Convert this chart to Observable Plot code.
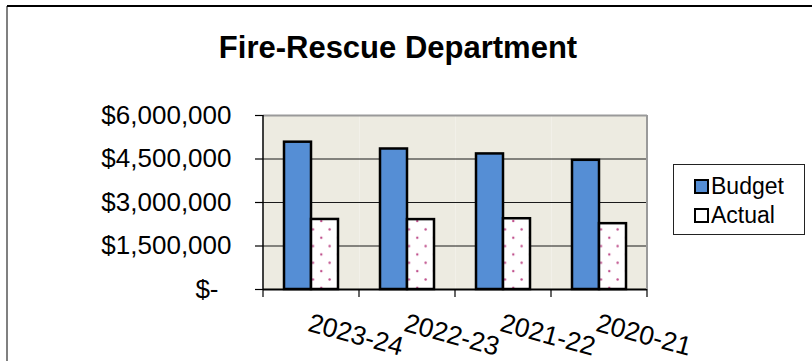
<!DOCTYPE html>
<html>
<head>
<meta charset="utf-8">
<script src="https://cdn.jsdelivr.net/npm/d3@7"></script>
<script src="https://cdn.jsdelivr.net/npm/@observablehq/plot@0.6"></script>
<style>
  html, body { margin: 0; padding: 0; background: #fff; }
  #wrap { position: relative; width: 812px; height: 361px; overflow: hidden; font-family: "Liberation Sans", Arial, sans-serif; }
  #border-left { position: absolute; left: 6px; top: 6px; width: 2px; height: 360px; background: #808080; }
  #border-top { position: absolute; left: 7px; top: 5px; width: 810px; height: 1.5px; background: #000; }
  #title { position: absolute; left: 0; top: 32px; width: 796px; text-align: center; font-size: 31px; font-weight: bold; line-height: 1; color: #000; }
  #legend { position: absolute; left: 673px; top: 164px; width: 132px; height: 71px; border: 1.3px solid #222; box-sizing: border-box; background: #fff; }
  .li { position: absolute; left: 20px; display: flex; align-items: center; font-size: 23px; line-height: 1; color: #000; }
  .sw { width: 11px; height: 11px; border: 2px solid #000; margin-right: 2px; }
  #chart { position: absolute; left: 0; top: 0; }
</style>
</head>
<body>
<svg width="0" height="0" style="position:absolute">
  <defs>
    <pattern id="dots" width="16.7" height="16.7" patternUnits="userSpaceOnUse">
      <rect width="16.7" height="16.7" fill="#fff"></rect>
      <circle cx="4" cy="4" r="1.2" fill="#c0508c"></circle>
      <circle cx="12.35" cy="12.35" r="1.2" fill="#c0508c"></circle>
    </pattern>
  </defs>
</svg>
<div id="wrap">
  <div id="chart"></div>
  <div id="border-left"></div>
  <div id="border-top"></div>
  <div id="title">Fire-Rescue Department</div>
  <div id="legend">
    <div class="li" style="top:10px"><div class="sw" style="background:#558ED5"></div>Budget</div>
    <div class="li" style="top:39px"><div class="sw" style="background:#fff"></div>Actual</div>
  </div>
</div>
<script>
const years = ["2023-24", "2022-23", "2021-22", "2020-21"];
const seriesNames = ["Budget", "Actual"];
const budget = [5080000, 4845000, 4675000, 4455000];
const actual = [2415000, 2410000, 2440000, 2270000];
const yTicks = [0, 1500000, 3000000, 4500000, 6000000];

const rows = [];
years.forEach((y, i) => {
  rows.push({year: y, series: "Budget", value: budget[i]});
  rows.push({year: y, series: "Actual", value: actual[i]});
});

const fmt = v => v === 0 ? "$-\u2002" : "$" + d3.format(",")(v);

const W = 812, H = 361, ML = 263, MR = 165, MT = 115, MB = 72;

const plot = Plot.plot({
  width: W,
  height: H,
  marginLeft: ML,
  marginRight: MR,
  marginTop: MT,
  marginBottom: MB,
  style: {fontFamily: "Liberation Sans, Arial, sans-serif", fontSize: "26px", color: "#000", background: "transparent", overflow: "visible"},
  fx: {domain: years, padding: 0, axis: null, label: null},
  x: {domain: seriesNames, paddingOuter: 0.75, paddingInner: 0, axis: null},
  y: {domain: [0, 6000000], axis: null},
  color: {domain: seriesNames, range: ["#558ED5", "url(#dots)"]},
  marks: [
    Plot.frame({fill: "#EDEBE1"}),
    Plot.gridY(yTicks.slice(1, 4), {stroke: "#1a1a1a", strokeOpacity: 1, strokeWidth: 1.2}),
    Plot.ruleY([6000000], {stroke: "#9a9a9a", strokeWidth: 2}),
    Plot.barY(rows, {fx: "year", x: "series", y: "value", fill: "series", stroke: "#000", strokeWidth: 2.5}),
    Plot.ruleY([0], {stroke: "#000", strokeWidth: 1.8}),
    Plot.axisY(yTicks, {tickFormat: fmt, tickSize: 8, tickPadding: 24, fontSize: 26, stroke: "#000", strokeWidth: 1.2, label: null}),
    Plot.text(years, {fx: d => d, text: d => d, frameAnchor: "bottom", dy: 23, rotate: 15, textAnchor: "start", lineAnchor: "top", fontSize: 26.5, fill: "#000"})
  ]
});

document.getElementById("chart").appendChild(plot);

// axis line, right border and category-boundary ticks, placed from the library's fx / y scales
const svg = d3.select(plot);
const fxs = plot.scale("fx");
const ys = plot.scale("y");
const [r0, r1] = fxs.range;
const step = (r1 - r0) / fxs.domain.length;
const yBottom = Math.max(...ys.range), yTop = Math.min(...ys.range);
const g = svg.append("g");
g.append("line").attr("x1", r0).attr("x2", r0).attr("y1", yTop).attr("y2", yBottom).attr("stroke", "#000").attr("stroke-width", 1.5);
g.append("line").attr("x1", r1).attr("x2", r1).attr("y1", yTop).attr("y2", yBottom).attr("stroke", "#9a9a9a").attr("stroke-width", 2);
d3.range(fxs.domain.length + 1).forEach(i => {
  const x = r0 + i * step;
  g.append("line").attr("x1", x).attr("x2", x).attr("y1", yBottom).attr("y2", yBottom + 8).attr("stroke", "#000").attr("stroke-width", 1.2);
});
</script>
</body>
</html>
